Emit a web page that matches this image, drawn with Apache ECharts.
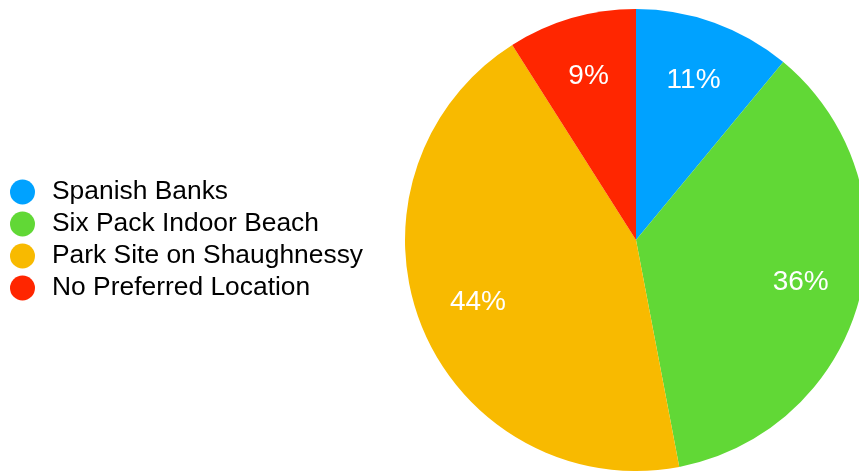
<!DOCTYPE html>
<html>
<head>
<meta charset="utf-8">
<script src="https://cdn.jsdelivr.net/npm/echarts@6/dist/echarts.min.js"></script>
<style>
html,body{margin:0;padding:0;background:#fff;}
#chart{width:859px;height:473px;}
</style>
</head>
<body>
<div id="chart"></div>
<script>
const categories = ['Spanish Banks', 'Six Pack Indoor Beach', 'Park Site on Shaughnessy', 'No Preferred Location'];
const values = [11, 36, 44, 9];
const colors = ['#00a2ff', '#61d836', '#f8ba00', '#ff2600'];

const fontFamily = '"Helvetica Neue", Helvetica, "Liberation Sans", Arial, sans-serif';
const data = categories.map((name, i) => ({ name: name, value: values[i], itemStyle: { color: colors[i] } }));

const chart = echarts.init(document.getElementById('chart'), null, { renderer: 'canvas' });
chart.setOption({
  animation: false,
  backgroundColor: '#ffffff',
  legend: {
    orient: 'vertical',
    left: 10,
    top: 179,
    padding: 0,
    icon: 'circle',
    itemWidth: 25,
    itemHeight: 25,
    itemGap: 6,
    selectedMode: false,
    textStyle: { fontFamily: fontFamily, fontSize: 26.4, color: '#000', lineHeight: 26, padding: [0, 0, 0, 12] },
    data: categories
  },
  series: [
    {
      type: 'pie',
      center: [636, 240],
      radius: [0, 231],
      startAngle: 90,
      clockwise: true,
      label: { show: false },
      labelLine: { show: false },
      emphasis: { disabled: true },
      data: data
    },
    {
      type: 'pie',
      center: [636, 240],
      radius: [103, 231],
      startAngle: 90,
      clockwise: true,
      silent: true,
      legendHoverLink: false,
      itemStyle: { color: 'rgba(0,0,0,0)' },
      label: {
        show: true,
        position: 'inside',
        formatter: '{c}%',
        color: '#ffffff',
        fontFamily: fontFamily,
        fontSize: 28,
        fontWeight: 'normal'
      },
      labelLine: { show: false },
      emphasis: { disabled: true },
      data: categories.map((name, i) => ({ name: name + ' ', value: values[i] }))
    }
  ]
});
</script>
</body>
</html>
